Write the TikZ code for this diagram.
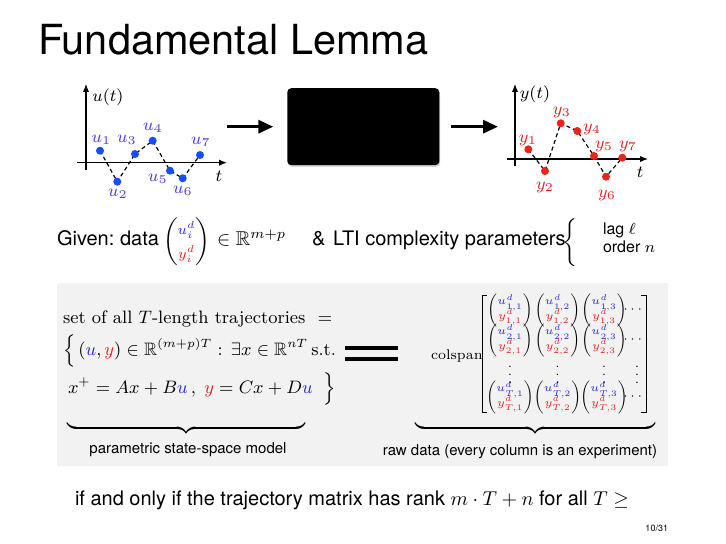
\RequirePackage{fix-cm}
\documentclass[tikz,border=0pt]{standalone}
\usepackage{amsmath,amssymb}
\usepackage[no-math]{fontspec}
\setmainfont{TeX Gyre Heros}
\newcommand\cmrm{\fontfamily{lmr}\selectfont}
\usetikzlibrary{arrows.meta,shadows}
\DeclareMathSizes{5.5}{5.5}{4.2}{3}
\definecolor{ulab}{RGB}{75,63,210}
\definecolor{udot}{RGB}{25,75,255}
\definecolor{ylab}{RGB}{215,40,40}
\definecolor{ydot}{RGB}{235,35,25}
\definecolor{mblue}{RGB}{40,40,205}
\definecolor{mred}{RGB}{225,35,35}
\definecolor{graybg}{RGB}{242,242,242}
\newcommand\udyvec[2]{\begin{pmatrix}{\color{mblue}u^d_{#1,#2}}\\[-1pt]{\color{mred}y^d_{#1,#2}}\end{pmatrix}}
\begin{document}
\begin{tikzpicture}[x=0.5pt,y=-0.5pt,
  every node/.style={inner sep=0pt,outer sep=0pt},
  axis/.style={line width=0.6pt,-{Latex[length=4pt,width=3.2pt]}},
  traj/.style={line width=0.6pt,dash pattern=on 2pt off 1.5pt},
  udotst/.style={circle,fill=udot,minimum size=4pt},
  ydotst/.style={circle,fill=ydot,minimum size=4pt},
  plotlab/.style={font=\fontsize{8.5}{10}\selectfont},
  ulabst/.style={plotlab,text=ulab},
  ylabst/.style={plotlab,text=ylab},
  bigarrow/.style={line width=1.6pt,-{Triangle[length=7.5pt,width=6.5pt]}},
  body/.style={font=\fontsize{10}{12}\selectfont},
  cmtext/.style={font=\cmrm\fontsize{9}{11}\selectfont},
  caption/.style={font=\fontsize{7.5}{9}\selectfont},
  vecst/.style={font=\fontsize{5.5}{6.5}\selectfont\setlength{\arraycolsep}{1.6pt}},
  dotsst/.style={font=\fontsize{6}{7}\selectfont},
  bracketst/.style={line width=0.5pt},
]
\useasboundingbox (0,0) rectangle (726,544);

% title
\node[anchor=base west,font=\fontsize{20.74}{25}\selectfont] (title) at (38,55) {Fundamental Lemma};

% input plot
\draw[axis] (86,170) -- (86,84);
\draw[axis] (77,162.7) -- (227,162.7);
\node[plotlab] (ut) at (108,97) {$u(t)$};
\node[plotlab] (utt) at (219,176) {$t$};
\coordinate (u1) at (100,150.7);
\coordinate (u2) at (117.3,181.7);
\coordinate (u3) at (135,154);
\coordinate (u4) at (152.7,140.7);
\coordinate (u5) at (170,170.7);
\coordinate (u6) at (182.7,178.3);
\coordinate (u7) at (200,155);
\draw[traj] (u1) -- (u2) -- (u3) -- (u4) -- (u5) -- (u6) -- (u7);
\foreach \i in {1,...,7} {\node[udotst] (ud\i) at (u\i) {};}
\node[ulabst] (ul1) at (101.5,140) {$u_1$};
\node[ulabst] (ul2) at (118,194) {$u_2$};
\node[ulabst] (ul3) at (127,140) {$u_3$};
\node[ulabst] (ul4) at (153,128) {$u_4$};
\node[ulabst] (ul5) at (158,179) {$u_5$};
\node[ulabst] (ul6) at (183,191) {$u_6$};
\node[ulabst] (ul7) at (201,142) {$u_7$};

% system box and arrows
\node[fill=black,rounded corners=2pt,minimum width=76pt,minimum height=38.5pt,
  drop shadow={shadow xshift=0.4pt,shadow yshift=-0.8pt,opacity=0.35}] (sys) at (363.3,126.7) {};
\coordinate (ain) at (227,126.7);
\coordinate (aout) at (498,126.7);
\draw[bigarrow,shorten >=7pt] (ain) -- (sys.west);
\draw[bigarrow,shorten <=6pt] (sys.east) -- (aout);

% output plot
\draw[axis] (515,166) -- (515,84);
\draw[axis] (507,159) -- (648,159);
\node[plotlab] (yt) at (535,94) {$y(t)$};
\node[plotlab] (ytt) at (640,172) {$t$};
\coordinate (y1) at (528.3,149.3);
\coordinate (y2) at (545,171);
\coordinate (y3) at (560.7,123.3);
\coordinate (y4) at (577.3,131);
\coordinate (y5) at (594,156);
\coordinate (y6) at (606,176.7);
\coordinate (y7) at (622.3,157.7);
\draw[traj] (y1) -- (y2) -- (y3) -- (y4) -- (y5) -- (y6) -- (y7);
\foreach \i in {1,...,7} {\node[ydotst] (yd\i) at (y\i) {};}
\node[ylabst] (yl1) at (528,140) {$y_1$};
\node[ylabst] (yl2) at (545,187) {$y_2$};
\node[ylabst] (yl3) at (562,112) {$y_3$};
\node[ylabst] (yl4) at (592,129) {$y_4$};
\node[ylabst] (yl5) at (604,146) {$y_5$};
\node[ylabst] (yl6) at (607,195) {$y_6$};
\node[ylabst] (yl7) at (628,146) {$y_7$};

% given line
\node[body,anchor=base west] (given) at (57,246) {Given:};
\node[body,anchor=base east] (data) at (159,246) {data};
\node[anchor=west,font=\fontsize{10}{12}\selectfont\setlength{\arraycolsep}{3pt}] (gvec) at (163,241.5)
  {$\begin{pmatrix}\scriptstyle{\color{mblue}u_i^d}\\ \scriptstyle{\color{mred}y_i^d}\end{pmatrix}$};
\node[body,anchor=base west] (gin) at (217,246) {$\in\mathbb{R}^{m+p}$};
\node[body,anchor=base west] (amp) at (312,246) {\&};
\node[body,anchor=base west] (lti) at (333,246) {LTI complexity parameters};
\node[font=\fontsize{10}{12}\selectfont] (lbrace) at (571,242.5)
  {$\left\{\vphantom{\begin{array}{l}x\\x\end{array}}\right.$};
\node[font=\fontsize{8}{10}\selectfont,anchor=base west] (lag) at (603,235) {lag $\ell$};
\node[font=\fontsize{8}{10}\selectfont,anchor=base west] (order) at (603,253) {order $n$};

% gray panel
\node[fill=graybg,minimum width=305.5pt,minimum height=91.5pt,anchor=north west] (panel) at (57,283) {};
\node[cmtext,anchor=base west] (g1) at (63,323) {set of all $T$-length trajectories \ $=$};
\node[cmtext,anchor=base west] (g2) at (63,355)
  {$\Big\{\,({\color{mblue}u},{\color{mred}y})\in\mathbb{R}^{(m+p)T}:\,\exists x\in\mathbb{R}^{nT}\,$s.t.};
\node[cmtext,anchor=base west] (g3) at (68,393)
  {$x^{+}=Ax+B{\color{mblue}u}\,,\;{\color{mred}y}=Cx+D{\color{mblue}u}\;\;\Big\}$};
\node[font=\fontsize{10}{12}\selectfont,anchor=north] (ub1) at (186,421) {$\underbrace{\hspace{119pt}}$};
\node[caption,anchor=base] (cap1) at (188,453) {parametric state-space model};

\draw[line width=2pt] (345,348) -- (398,348);
\draw[line width=2pt] (345,359) -- (398,359);

% data matrix
\node[font=\cmrm\fontsize{7}{8}\selectfont,anchor=base west] (colspan) at (431,359.5) {colspan};
\draw[bracketst] (487,296) -| (482,412) -- (487,412);
\draw[bracketst] (641,296) -| (646,412) -- (641,412);
\node[vecst] (c11) at (510,310) {$\udyvec{1}{1}$};
\node[vecst] (c12) at (557.5,310) {$\udyvec{1}{2}$};
\node[vecst] (c13) at (604,310) {$\udyvec{1}{3}$};
\node[vecst] (c21) at (510,340) {$\udyvec{2}{1}$};
\node[vecst] (c22) at (557.5,340) {$\udyvec{2}{2}$};
\node[vecst] (c23) at (604,340) {$\udyvec{2}{3}$};
\node[vecst] (c31) at (510,397) {$\udyvec{T}{1}$};
\node[vecst] (c32) at (557.5,397) {$\udyvec{T}{2}$};
\node[vecst] (c33) at (604,397) {$\udyvec{T}{3}$};
\node[dotsst] (h1) at (634,310) {$\cdots$};
\node[dotsst] (h2) at (634,340) {$\cdots$};
\node[dotsst] (h3) at (634,397) {$\cdots$};
\node[dotsst] (v1) at (510,369) {$\vdots$};
\node[dotsst] (v2) at (557.5,369) {$\vdots$};
\node[dotsst] (v3) at (604,369) {$\vdots$};
\node[dotsst] (v4) at (637,369) {$\vdots$};
\node[font=\fontsize{10}{12}\selectfont,anchor=north] (ub2) at (535,421) {$\underbrace{\hspace{120pt}}$};
\node[caption,anchor=base] (cap2) at (520,455) {raw data (every column is an experiment)};

% bottom line
\node[body,anchor=base west] (iff) at (75,505)
  {if and only if the trajectory matrix has rank $m\cdot T+n$ for all $T\geq$};
\node[font=\fontsize{4.5}{5}\selectfont,anchor=base east] (pg) at (668,531) {10/31};
\end{tikzpicture}
\end{document}
